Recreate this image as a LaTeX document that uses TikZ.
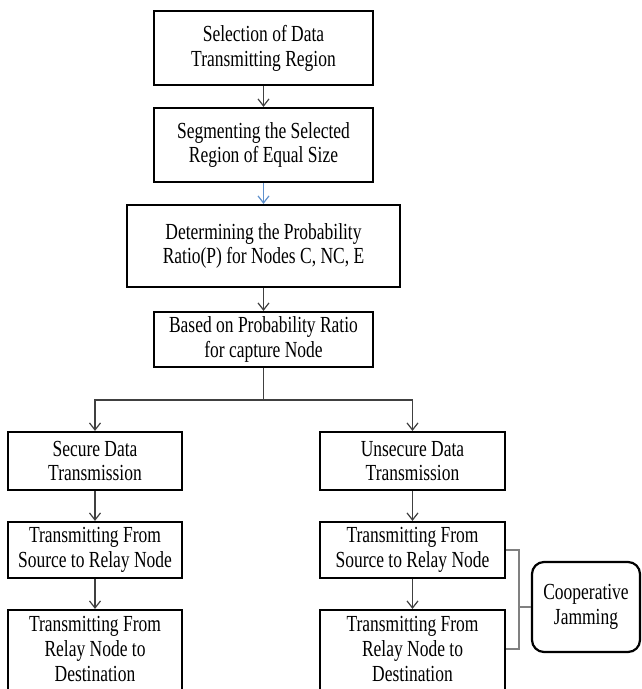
\documentclass[tikz,border=0pt]{standalone}
\usepackage{fontspec}
\setmainfont{Liberation Serif}[FakeStretch=0.76]
\usepackage{xcolor}
\usetikzlibrary{arrows.meta}
\definecolor{linkblue}{RGB}{95,145,205}
\tikzset{
  blk/.style 2 args={draw, line width=1.1pt, align=center, inner sep=2pt, minimum width=#1, minimum height=#2,
    font=\fontsize{11.5}{12.4}\selectfont},
  arr/.style={-{Straight Barb[length=3.5pt,width=5.5pt]}, line width=0.6pt, black!75},
  brk/.style={line width=0.7pt, gray},
}

\begin{document}
\begin{tikzpicture}[x=0.5pt, y=-0.5pt]
  \clip (0,0) rectangle (641,689);
  % main column
  \node[blk={109.5pt}{37pt}] (sel) at (263.5,48) {Selection of Data\\Transmitting Region};
  \node[blk={109.5pt}{37pt}] (seg) at (263.5,145) {Segmenting the Selected\\Region of Equal Size};
  \node[blk={136.5pt}{41pt}] (det) at (263.5,246) {Determining the Probability\\Ratio(P) for Nodes C, NC, E};
  \node[blk={109.5pt}{27.5pt}] (bas) at (263.5,339.5) {Based on Probability Ratio\\for capture Node};
  % left branch
  \node[blk={87pt}{29pt}] (sec) at (95,461) {Secure Data\\Transmission};
  \node[blk={87pt}{28pt}] (lsr) at (95,550) {Transmitting From\\Source to Relay Node};
  \node[blk={87pt}{48pt}] (lrd) at (95,658) {};
  \node[font=\fontsize{11.5}{12.4}\selectfont, align=center] (lrdt) at (95,649) {Transmitting From\\Relay Node to\\Destination};
  % right branch
  \node[blk={92.5pt}{29pt}] (uns) at (412.5,461) {Unsecure Data\\Transmission};
  \node[blk={92.5pt}{28pt}] (rsr) at (412.5,550) {Transmitting From\\Source to Relay Node};
  \node[blk={92.5pt}{48pt}] (rrd) at (412.5,658) {};
  \node[font=\fontsize{11.5}{12.4}\selectfont, align=center] (rrdt) at (412.5,649) {Transmitting From\\Relay Node to\\Destination};
  \node[blk={54pt}{45pt}, rounded corners=6pt] (jam) at (586,607) {Cooperative\\Jamming};

  \coordinate (fork) at (263.5,400);
  \coordinate (bx) at (519,607);

  \draw[arr] (sel) -- (seg);
  \draw[arr, linkblue] (seg) -- (det);
  \draw[arr] (det) -- (bas);
  \draw[line width=0.6pt, black!75] (bas) -- (fork);
  \draw[arr] (fork) -| (sec);
  \draw[arr] (fork) -| (uns);
  \draw[arr] (sec) -- (lsr);
  \draw[arr] (lsr) -- (lrd);
  \draw[arr] (uns) -- (rsr);
  \draw[arr] (rsr) -- (rrd);
  \draw[brk] (rsr.east) -| (bx) |- (rrdt.east -| rrd.east);
  \draw[brk] (bx) -- (jam);
\end{tikzpicture}
\end{document}
